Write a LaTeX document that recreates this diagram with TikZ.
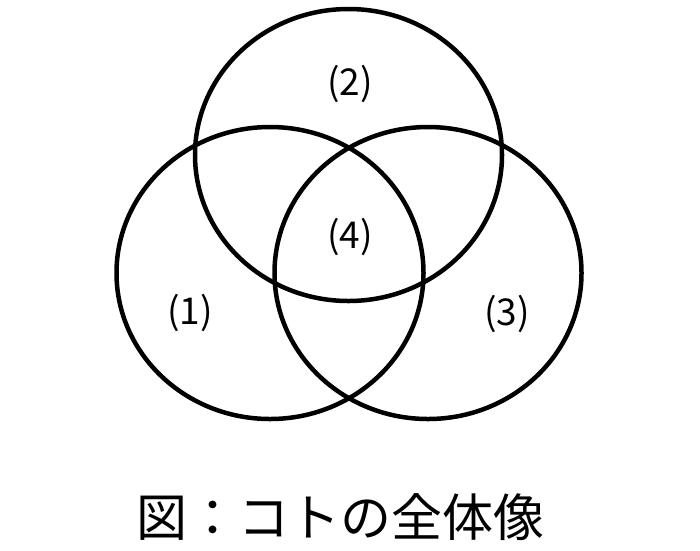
\documentclass[tikz,border=0pt]{standalone}
\usepackage{fontspec}
\setmainfont{Noto Sans CJK JP}
\usetikzlibrary{shapes.geometric}
\begin{document}
\begin{tikzpicture}[x=1pt,y=-1pt,
  setring/.style={draw=black,line width=4.5pt,ellipse,inner sep=0pt,minimum width=307pt,minimum height=292pt},
  setlabel/.style={font=\fontsize{37}{37}\selectfont,inner sep=0pt},
  captiontext/.style={font=\fontsize{51}{51}\selectfont,inner sep=0pt}]
\useasboundingbox (0,0) rectangle (700,550);
\node[setring] (c1) at (270,273) {};
\node[setring] (c2) at (348.5,155) {};
\node[setring] (c3) at (428,273) {};
\node[setlabel] (l2) at (350,84) {(2)};
\node[setlabel] (l4) at (350,237) {(4)};
\node[setlabel] (l1) at (190,313) {(1)};
\node[setlabel] (l3) at (507,314) {(3)};
\node[captiontext] (cap) at (340,517) {図：コトの全体像};
\end{tikzpicture}
\end{document}
